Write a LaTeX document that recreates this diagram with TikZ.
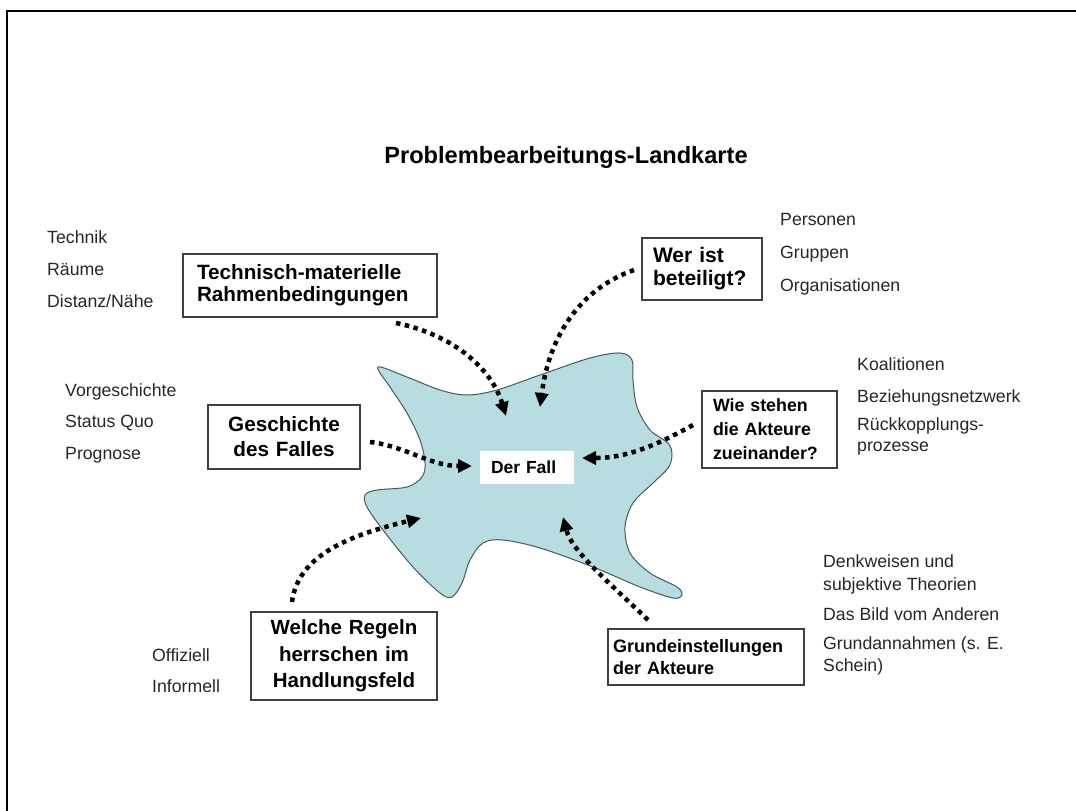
\documentclass[tikz,border=0pt]{standalone}
\usepackage{fontspec}
\setmainfont{Liberation Sans}
\usetikzlibrary{arrows.meta}
\definecolor{blobfill}{RGB}{183,221,224}
\definecolor{blobline}{RGB}{70,90,90}
\newcommand{\myfs}[2]{\fontsize{#1}{#2}\selectfont}
\begin{document}
\begin{tikzpicture}[x=1pt,y=-1pt,
  side/.style={anchor=base west, inner sep=0pt, text=black!85, font=\myfs{17.7}{21}},
  qbox/.style={draw=black!75, line width=1.2pt, fill=white, inner ysep=0pt, font=\bfseries\myfs{20.7}{22}},
  dotarrow/.style={line width=4.5pt, dash pattern=on 4.5pt off 4.5pt, -{Triangle[length=14pt,width=13pt]}}]
\useasboundingbox (0,0) rectangle (1076,811);
\draw[line width=2pt] (7,811) -- (7,11) -- (1076,11);

% title
\node[font=\bfseries\myfs{23.6}{28}, anchor=base, inner sep=0pt] (title) at (566,163) {Problembearbeitungs-Landkarte};

% blob
\draw[fill=blobfill, draw=blobline, line width=1pt] plot[smooth cycle, tension=0.55] coordinates {
(378,367) (407,377) (440,390) (467,395) (497,390) (540,375) (590,358) (620,353) (632,360)
(633,380) (637,407) (650,430) (668,443) (672,455) (668,468) (653,483) (633,503) (625,527)
(630,553) (650,573) (677,587) (682,595) (673,598) (640,587) (593,567) (540,548) (503,540)
(483,543) (470,560) (462,583) (452,597) (440,593) (413,567) (383,530) (367,507) (365,495)
(377,490) (407,487) (422,477) (425,463) (420,440) (407,413) (390,387)};

% center
\node[fill=white, inner xsep=11pt, inner ysep=0pt, text width=72pt, minimum height=33pt, align=left,
      font=\bfseries\myfs{17.5}{21}] (fall) at (527,467.5) {Der Fall};

% question boxes
\node[qbox, text width=226pt, inner xsep=14pt, minimum height=63pt, align=left] (tech) at (310,285.5) {Technisch-materielle\\Rahmenbedingungen};
\node[qbox, text width=98pt, inner xsep=11pt, minimum height=62pt, align=left, font=\bfseries\myfs{21}{23}] (wer) at (702,269) {Wer ist\\beteiligt?};
\node[qbox, text width=130pt, inner xsep=11pt, minimum height=64pt, align=center, font=\bfseries\myfs{20.7}{25}] (gesch) at (284,437) {Geschichte\\des Falles};
\node[qbox, text width=113pt, inner xsep=11pt, minimum height=77pt, align=left, font=\bfseries\myfs{17.8}{24}] (wie) at (769.5,429.5) {Wie stehen\\die Akteure\\zueinander?};
\node[qbox, text width=170pt, inner xsep=8pt, minimum height=88pt, align=center, font=\bfseries\myfs{20.5}{26.5}] (regeln) at (344,656) {Welche Regeln\\herrschen im\\Handlungsfeld};
\node[qbox, text width=186pt, inner xsep=5pt, minimum height=56pt, align=left, font=\bfseries\myfs{18}{22}] (grund) at (706,657) {Grundeinstellungen\\der Akteure};

% side texts
\node[side] (t1) at (47,243) {Technik};
\node[side] (t2) at (47,275) {Räume};
\node[side] (t3) at (47,307) {Distanz/Nähe};
\node[side] (g1) at (65,396) {Vorgeschichte};
\node[side] (g2) at (65,427) {Status Quo};
\node[side] (g3) at (65,459) {Prognose};
\node[side] (w1) at (780,225) {Personen};
\node[side] (w2) at (780,258) {Gruppen};
\node[side] (w3) at (780,291) {Organisationen};
\node[side] (k1) at (857,370) {Koalitionen};
\node[side] (k2) at (857,402) {Beziehungsnetzwerk};
\node[side] (k3) at (857,430) {Rückkopplungs-};
\node[side] (k4) at (857,451) {prozesse};
\node[side] (d1) at (823,567) {Denkweisen und};
\node[side] (d2) at (823,590) {subjektive Theorien};
\node[side] (d3) at (823,620) {Das Bild vom Anderen};
\node[side] (d4) at (823,649) {Grundannahmen (s. E.};
\node[side] (d5) at (823,671) {Schein)};
\node[side] (o1) at (152,661) {Offiziell};
\node[side] (o2) at (152,692) {Informell};

% arrows
\coordinate (s1) at (396,323); \coordinate (e1) at (506,416);
\coordinate (s2) at (634,270); \coordinate (e2) at (540,407);
\coordinate (s3) at (370,442); \coordinate (e3) at (472,466);
\coordinate (s4) at (693,425); \coordinate (e4) at (582,458);
\coordinate (s5) at (292,602); \coordinate (e5) at (421,518);
\coordinate (s6) at (648,620); \coordinate (e6) at (563,517);
\draw[dotarrow] (s1) .. controls (455,335) and (492,370) .. (e1);
\draw[dotarrow] (s2) .. controls (585,287) and (550,330) .. (e2);
\draw[dotarrow] (s3) .. controls (405,446) and (430,466) .. (e3);
\draw[dotarrow] (s4) .. controls (662,442) and (630,458) .. (e4);
\draw[dotarrow] (s5) .. controls (298,555) and (350,535) .. (e5);
\draw[dotarrow] (s6) .. controls (612,585) and (572,552) .. (e6);
\end{tikzpicture}
\end{document}
